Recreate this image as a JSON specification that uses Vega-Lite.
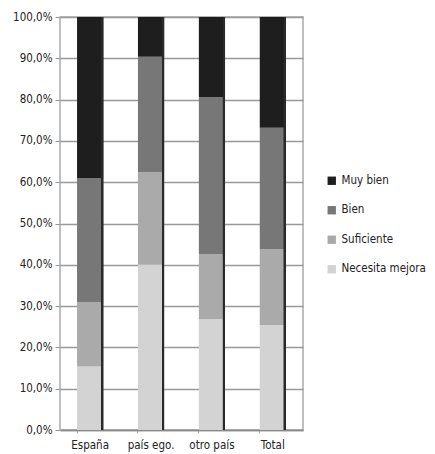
{
  "$schema": "https://vega.github.io/schema/vega-lite/v6.json",
  "width": 243,
  "height": 413,
  "padding": {"left": 12, "top": 11, "right": 5, "bottom": 5},
  "autosize": {"type": "pad"},
  "background": "white",
  "config": {
    "font": "DejaVu Sans Condensed, Liberation Sans, sans-serif",
    "view": {"stroke": "#aaaaaa", "strokeWidth": 1.5},
    "axis": {"labelFont": "DejaVu Sans Condensed, Liberation Sans, sans-serif", "labelFontSize": 11.5, "labelColor": "#222222"}
  },
  "data": {
    "values": [
      {"pais": "España", "nivel": "Necesita mejora", "k": 1, "v": 15.4},
      {"pais": "España", "nivel": "Suficiente", "k": 2, "v": 15.6},
      {"pais": "España", "nivel": "Bien", "k": 3, "v": 30.0},
      {"pais": "España", "nivel": "Muy bien", "k": 4, "v": 39.0},
      {"pais": "país ego.", "nivel": "Necesita mejora", "k": 1, "v": 40.0},
      {"pais": "país ego.", "nivel": "Suficiente", "k": 2, "v": 22.4},
      {"pais": "país ego.", "nivel": "Bien", "k": 3, "v": 28.0},
      {"pais": "país ego.", "nivel": "Muy bien", "k": 4, "v": 9.6},
      {"pais": "otro país", "nivel": "Necesita mejora", "k": 1, "v": 26.8},
      {"pais": "otro país", "nivel": "Suficiente", "k": 2, "v": 15.8},
      {"pais": "otro país", "nivel": "Bien", "k": 3, "v": 38.0},
      {"pais": "otro país", "nivel": "Muy bien", "k": 4, "v": 19.4},
      {"pais": "Total", "nivel": "Necesita mejora", "k": 1, "v": 25.4},
      {"pais": "Total", "nivel": "Suficiente", "k": 2, "v": 18.4},
      {"pais": "Total", "nivel": "Bien", "k": 3, "v": 29.4},
      {"pais": "Total", "nivel": "Muy bien", "k": 4, "v": 26.8}
    ]
  },
  "encoding": {
    "x": {
      "field": "pais", "type": "nominal", "sort": ["España", "país ego.", "otro país", "Total"],
      "scale": {"paddingInner": 0.57, "paddingOuter": 0.28},
      "axis": {"title": null, "labelAngle": 0, "ticks": true, "tickSize": 3, "tickColor": "#aaaaaa", "bandPosition": 0, "labelPadding": 6, "domainColor": "#888888", "domainWidth": 1.5, "grid": false}
    }
  },
  "layer": [
    {
      "mark": {"type": "bar"},
      "encoding": {
        "y": {
          "field": "v", "type": "quantitative", "stack": "normalize",
          "scale": {"domain": [0, 1]},
          "axis": {"title": null, "labelExpr": "replace(format(datum.value * 100, '.1f'), '.', ',') + '%'", "values": [0, 0.1, 0.2, 0.3, 0.4, 0.5, 0.6, 0.7, 0.8, 0.9, 1], "gridColor": "#999999", "gridWidth": 1.5, "tickColor": "#999999", "tickSize": 5, "domain": false, "labelPadding": 3}
        },
        "color": {
          "field": "nivel", "type": "nominal",
          "scale": {"domain": ["Muy bien", "Bien", "Suficiente", "Necesita mejora"], "range": ["#1e1e1e", "#777777", "#aaaaaa", "#d3d3d3"]},
          "legend": {"title": null, "orient": "none", "legendX": 266, "legendY": 158, "symbolType": "square", "symbolSize": 70, "symbolStrokeWidth": 0, "labelFontSize": 11.5, "labelFont": "DejaVu Sans Condensed, Liberation Sans, sans-serif", "rowPadding": 16.5, "labelOffset": 4, "labelColor": "#222222"}
        },
        "order": {"field": "k", "type": "quantitative", "sort": "ascending"}
      }
    },
    {
      "mark": {"type": "rule", "color": "#2a2a2a", "strokeWidth": 2, "xOffset": 12},
      "encoding": {
        "y": {"datum": 0, "type": "quantitative"},
        "y2": {"datum": 1}
      }
    }
  ]
}
